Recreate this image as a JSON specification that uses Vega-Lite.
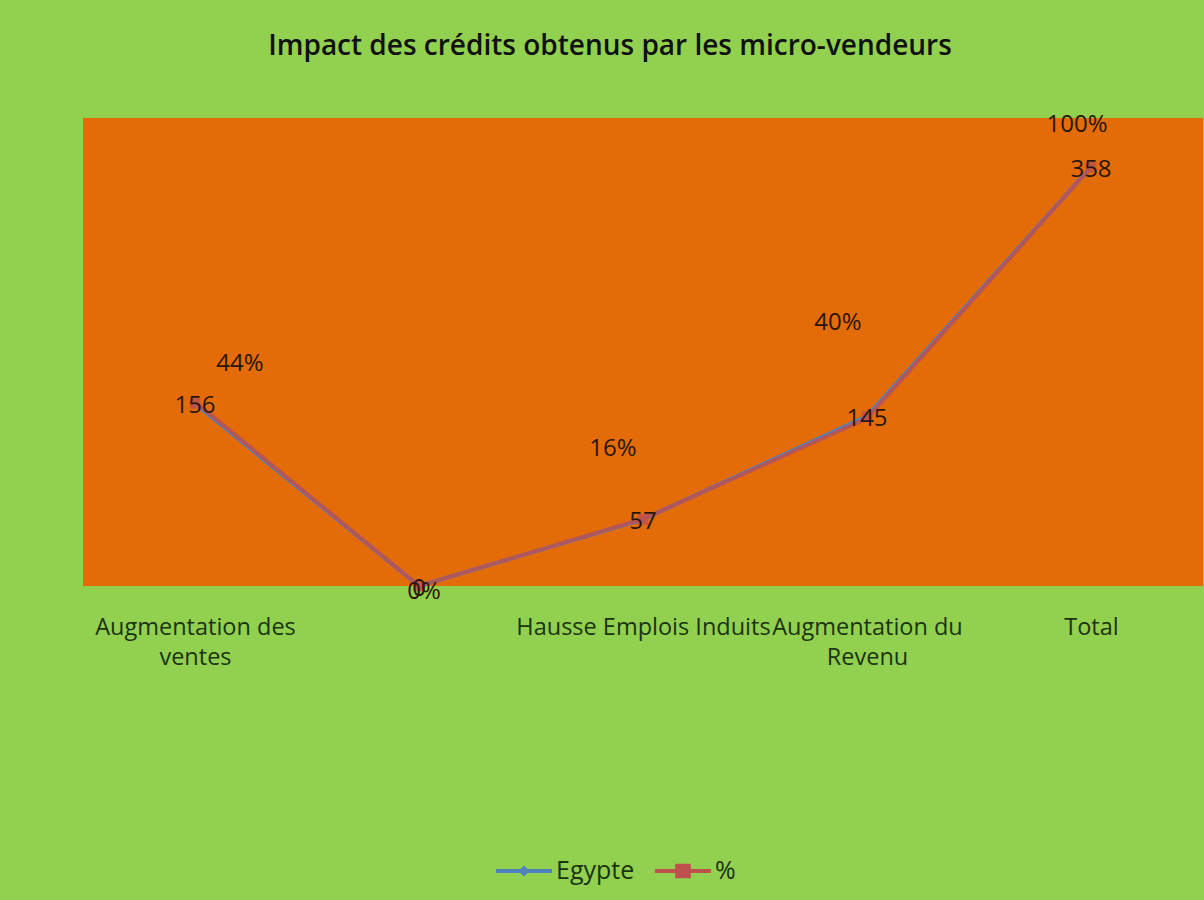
{
  "$schema": "https://vega.github.io/schema/vega-lite/v6.json",
  "autosize": "none",
  "width": 1120,
  "height": 468,
  "padding": {"left": 83, "top": 118, "right": 1, "bottom": 314},
  "background": "#92D050",
  "title": {
    "text": "Impact des crédits obtenus par les micro-vendeurs",
    "font": "Open Sans",
    "fontSize": 28,
    "fontWeight": 600,
    "color": "#111111",
    "anchor": "middle",
    "dx": -33,
    "offset": 52
  },
  "config": {
    "view": {"fill": "#E36C09", "stroke": null},
    "font": "Open Sans"
  },
  "data": {
    "values": [
      {"categorie": "Augmentation des ventes", "Egypte": 156, "pct": 0.44},
      {"categorie": "", "Egypte": 0, "pct": 0},
      {"categorie": "Hausse Emplois Induits", "Egypte": 57, "pct": 0.16},
      {"categorie": "Augmentation du Revenu", "Egypte": 145, "pct": 0.40},
      {"categorie": "Total", "Egypte": 358, "pct": 1.0}
    ]
  },
  "encoding": {
    "x": {
      "field": "categorie",
      "type": "nominal",
      "sort": null,
      "scale": {"type": "point", "padding": 0.5},
      "axis": {
        "title": null,
        "domain": false,
        "ticks": false,
        "labelAngle": 0,
        "labelFont": "Open Sans",
        "labelFontSize": 23.5,
        "labelColor": "#1c3310",
        "labelPadding": 41,
        "labelLimit": 0,
        "labelOverlap": false,
        "labelLineHeight": 30,
        "labelBaseline": "middle",
        "labelExpr": "datum.label == 'Augmentation des ventes' ? ['Augmentation des', 'ventes'] : datum.label == 'Augmentation du Revenu' ? ['Augmentation du', 'Revenu'] : datum.label"
      }
    }
  },
  "layer": [
    {
      "mark": {"type": "line", "color": "#4F81BD", "strokeWidth": 4},
      "encoding": {
        "y": {"field": "Egypte", "type": "quantitative", "scale": {"domain": [0, 400], "nice": false}, "axis": null}
      }
    },
    {
      "mark": {"type": "line", "color": "#C0504D", "opacity": 0.85, "strokeWidth": 4},
      "encoding": {
        "y": {"field": "pct", "type": "quantitative", "scale": {"domain": [0, 1.1173], "nice": false}, "axis": null}
      }
    },
    {
      "mark": {"type": "point", "shape": "square", "size": 110, "filled": true, "color": "#C0504D", "opacity": 0.85},
      "encoding": {
        "y": {"field": "Egypte", "type": "quantitative", "scale": {"domain": [0, 400], "nice": false}, "axis": null}
      }
    },
    {
      "transform": [{"fold": ["Egypte", "pct"], "as": ["serie", "v"]}],
      "mark": {"type": "point", "filled": true, "opacity": 0},
      "encoding": {
        "color": {
          "field": "serie",
          "type": "nominal",
          "scale": {"domain": ["Egypte", "pct"], "range": ["#4F81BD", "#C0504D"]},
          "legend": {
            "title": null,
            "orient": "none",
            "legendX": 413,
            "legendY": 725,
            "direction": "horizontal",
            "symbolSize": 3136,
            "symbolOpacity": 1,
            "symbolStrokeWidth": 0,
            "labelFont": "Open Sans",
            "labelFontSize": 25,
            "labelColor": "#1c3310",
            "labelOffset": 4,
            "columnPadding": 20,
            "labelExpr": "datum.label == 'pct' ? '%' : datum.label"
          }
        },
        "shape": {
          "field": "serie",
          "type": "nominal",
          "scale": {
            "domain": ["Egypte", "pct"],
            "range": [
              "M-1,-0.07H1V0.07H-1Z M0,-0.2L0.2,0L0,0.2L-0.2,0Z",
              "M-1,-0.07H1V0.07H-1Z M-0.28,-0.26H0.28V0.26H-0.28Z"
            ]
          },
          "legend": {
            "title": null,
            "orient": "none",
            "legendX": 413,
            "legendY": 725,
            "direction": "horizontal",
            "symbolSize": 3136,
            "symbolOpacity": 1,
            "symbolStrokeWidth": 0,
            "labelFont": "Open Sans",
            "labelFontSize": 25,
            "labelColor": "#1c3310",
            "labelOffset": 4,
            "columnPadding": 20,
            "labelExpr": "datum.label == 'pct' ? '%' : datum.label"
          }
        }
      }
    },
    {
      "mark": {"type": "text", "font": "Open Sans", "fontSize": 24, "color": "#2a1608", "baseline": "middle", "dy": 3},
      "encoding": {
        "y": {"field": "Egypte", "type": "quantitative", "scale": {"domain": [0, 400], "nice": false}, "axis": null},
        "text": {"field": "Egypte", "type": "quantitative"}
      }
    },
    {
      "transform": [{"filter": "datum.pct == 0.44"}],
      "mark": {"type": "text", "font": "Open Sans", "fontSize": 24, "color": "#2a1608", "baseline": "middle", "dx": 45, "dy": -38},
      "encoding": {
        "y": {"field": "pct", "type": "quantitative", "scale": {"domain": [0, 1.1173], "nice": false}, "axis": null},
        "text": {"field": "pct", "type": "quantitative", "format": ".0%"}
      }
    },
    {
      "transform": [{"filter": "datum.pct == 0"}],
      "mark": {"type": "text", "font": "Open Sans", "fontSize": 24, "color": "#2a1608", "baseline": "middle", "dx": 5, "dy": 6},
      "encoding": {
        "y": {"field": "pct", "type": "quantitative", "scale": {"domain": [0, 1.1173], "nice": false}, "axis": null},
        "text": {"field": "pct", "type": "quantitative", "format": ".0%"}
      }
    },
    {
      "transform": [{"filter": "datum.pct == 0.16"}],
      "mark": {"type": "text", "font": "Open Sans", "fontSize": 24, "color": "#2a1608", "baseline": "middle", "dx": -30, "dy": -70},
      "encoding": {
        "y": {"field": "pct", "type": "quantitative", "scale": {"domain": [0, 1.1173], "nice": false}, "axis": null},
        "text": {"field": "pct", "type": "quantitative", "format": ".0%"}
      }
    },
    {
      "transform": [{"filter": "datum.pct == 0.4"}],
      "mark": {"type": "text", "font": "Open Sans", "fontSize": 24, "color": "#2a1608", "baseline": "middle", "dx": -29, "dy": -95},
      "encoding": {
        "y": {"field": "pct", "type": "quantitative", "scale": {"domain": [0, 1.1173], "nice": false}, "axis": null},
        "text": {"field": "pct", "type": "quantitative", "format": ".0%"}
      }
    },
    {
      "transform": [{"filter": "datum.pct == 1"}],
      "mark": {"type": "text", "font": "Open Sans", "fontSize": 24, "color": "#2a1608", "baseline": "middle", "dx": -14, "dy": -42},
      "encoding": {
        "y": {"field": "pct", "type": "quantitative", "scale": {"domain": [0, 1.1173], "nice": false}, "axis": null},
        "text": {"field": "pct", "type": "quantitative", "format": ".0%"}
      }
    }
  ],
  "resolve": {"scale": {"y": "independent"}}
}
